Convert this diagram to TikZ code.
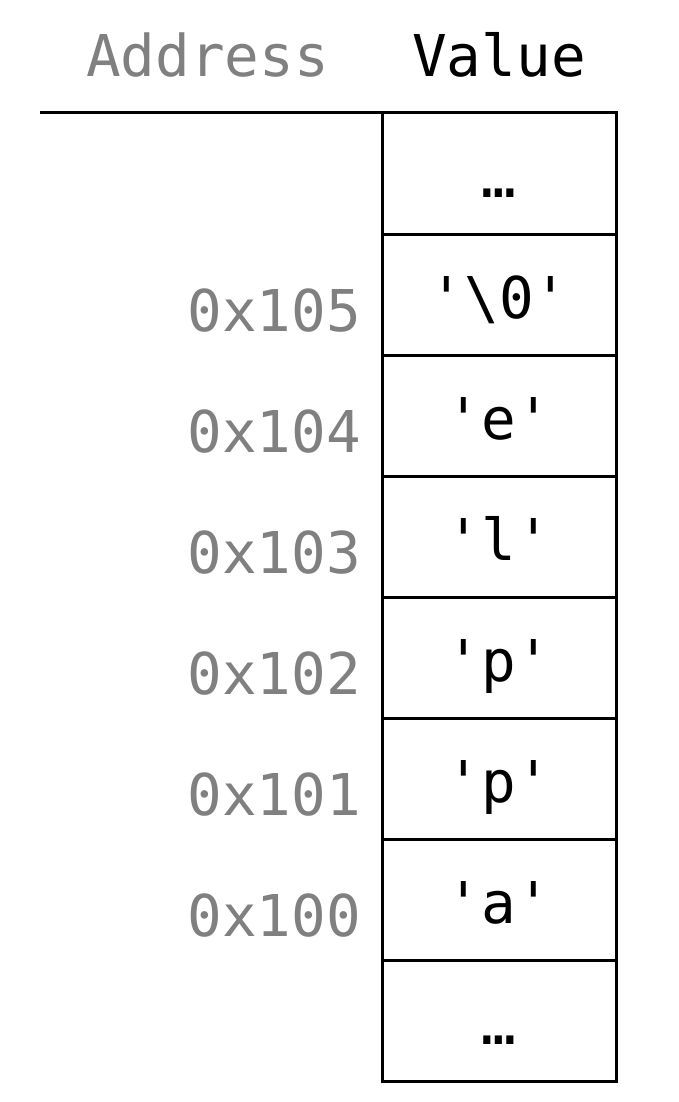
\documentclass[tikz,border=0pt]{standalone}
\usepackage{fontspec}
\setmonofont{DejaVu Sans Mono}
\usepackage{tikz}
\usetikzlibrary{positioning}

\definecolor{addrgray}{gray}{0.5}
\newcommand{\memfont}{\fontsize{57.6}{60}\selectfont\ttfamily}

\tikzset{
  cell/.style={draw, line width=3pt, minimum width=234pt, inner sep=0pt,
    outer sep=0pt, text height=84pt, text depth=37pt, font=\memfont},
  addr/.style={anchor=base east, inner sep=0pt, text=addrgray, font=\memfont},
  head/.style={inner sep=0pt, font=\memfont}
}

\begin{document}
\begin{tikzpicture}[x=1pt,y=1pt]
    \useasboundingbox (0,0) rectangle (678,-1102);

    % memory column, top to bottom
    \node[cell] (cell0) at (499,-173.5) {…};
    \node[cell, below=0pt of cell0] (cell1) {'\textbackslash 0'};
    \node[cell, below=0pt of cell1] (cell2) {'e'};
    \node[cell, below=0pt of cell2] (cell3) {'l'};
    \node[cell, below=0pt of cell3] (cell4) {'p'};
    \node[cell, below=0pt of cell4] (cell5) {'p'};
    \node[cell, below=0pt of cell5] (cell6) {'a'};
    \node[cell, below=0pt of cell6] (cell7) {…};

    % addresses
    \node[addr] (addr105) at ([xshift=-21pt,yshift=24pt]cell1.south west) {0x105};
    \node[addr] (addr104) at ([xshift=-21pt,yshift=24pt]cell2.south west) {0x104};
    \node[addr] (addr103) at ([xshift=-21pt,yshift=24pt]cell3.south west) {0x103};
    \node[addr] (addr102) at ([xshift=-21pt,yshift=24pt]cell4.south west) {0x102};
    \node[addr] (addr101) at ([xshift=-21pt,yshift=24pt]cell5.south west) {0x101};
    \node[addr] (addr100) at ([xshift=-21pt,yshift=24pt]cell6.south west) {0x100};

    % header
    \node[head, anchor=base west, text=addrgray] (addrhead) at (86,-77) {Address};
    \node[head, anchor=base] (valhead) at ([yshift=36pt]cell0.north) {Value};
    \coordinate (rulestart) at (40,-113);
    \draw[line width=3pt] (rulestart) -- (cell0.north west);
\end{tikzpicture}
\end{document}
